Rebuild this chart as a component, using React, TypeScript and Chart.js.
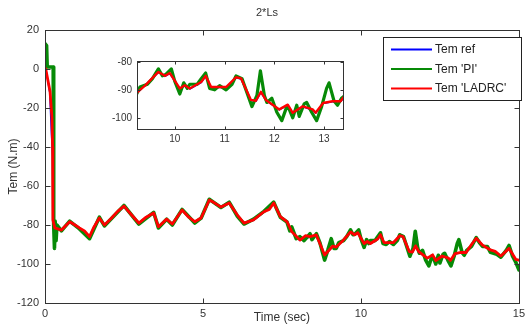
import React, { useEffect, useRef } from 'react';
import { Chart, registerables } from 'chart.js';
Chart.register(...registerables);

// Time (sec) / torque (N.m) samples
const refT = [0, 0.03, 0.15, 0.2, 0.24, 0.25, 0.31, 0.52, 0.78, 1.09, 1.41, 1.72, 1.88, 2.5, 2.97, 3.44, 3.59, 3.85, 4.03, 4.34, 4.74, 4.94, 5.2, 5.57, 5.83, 6.09, 6.3, 6.6, 6.93, 7.24, 7.45, 7.66, 7.81, 8.07, 8.39, 8.59, 8.85, 9.11, 9.22, 9.67, 9.8, 9.9, 10.1, 10.2, 10.3, 10.53, 10.62, 10.73, 11.03, 11.23, 11.33, 11.53, 11.63, 11.73, 11.83, 12.1, 12.27, 12.37, 12.57, 12.77, 12.83, 12.98, 13.17, 13.33, 13.65, 13.85, 14.1, 14.43, 14.69, 14.9, 15];
const refV = [0, -0.5, -12, -32, -45, -77.8, -81.8, -82.8, -78.6, -81.8, -86.2, -76.6, -80.2, -70.5, -79.2, -74, -81, -77.2, -79.7, -72.5, -78.5, -76.6, -67.4, -71, -68.9, -75.1, -79.2, -77.6, -73.4, -68.9, -75.9, -78.5, -83.6, -87.9, -86.2, -85.3, -95.6, -91, -91.5, -83.8, -85.2, -84.2, -89.7, -88.6, -89.7, -87.4, -85.2, -89.2, -89.2, -85.7, -86.1, -93.8, -94.1, -90.9, -93.8, -97.2, -95.5, -98.4, -96.1, -97.2, -98.4, -94.9, -94.3, -94.3, -87, -90.5, -93, -96.1, -92.2, -97.8, -98.2];

const piT = [0, 0.05, 0.07, 0.26, 0.27, 0.28, 0.3, 0.32, 0.35, 0.38, 0.52, 0.78, 1.09, 1.41, 1.72, 1.88, 2.5, 2.97, 3.44, 3.59, 3.85, 4.03, 4.34, 4.74, 4.94, 5.2, 5.57, 5.83, 6.09, 6.3, 6.6, 6.93, 7.24, 7.45, 7.66, 7.75, 7.81, 7.95, 8.07, 8.2, 8.39, 8.45, 8.59, 8.7, 8.85, 8.95, 9.06, 9.15, 9.22, 9.3, 9.45, 9.55, 9.67, 9.75, 9.82, 9.93, 10.0, 10.1, 10.18, 10.25, 10.3, 10.45, 10.53, 10.62, 10.7, 10.8, 10.9, 11.03, 11.15, 11.23, 11.35, 11.45, 11.55, 11.65, 11.72, 11.8, 11.85, 11.95, 12.05, 12.15, 12.25, 12.3, 12.37, 12.45, 12.5, 12.6, 12.65, 12.75, 12.85, 12.95, 13.05, 13.1, 13.2, 13.27, 13.35, 13.5, 13.65, 13.75, 13.85, 14.0, 14.1, 14.3, 14.43, 14.6, 14.69, 14.8, 14.9, 15];
const piV = [13, 12, 1, 1, -60, -80, -92, -78, -88, -80, -83, -78, -82, -87, -76, -80.5, -70, -79.5, -73.5, -81.5, -77, -80, -72, -79, -76.5, -66.8, -71, -68.3, -75.5, -79.5, -77, -73, -68.3, -76, -78.5, -83, -81, -87, -86, -88, -84.5, -87.5, -84.5, -89, -98, -93, -87, -92, -92, -89, -88, -86, -82.5, -85, -84.5, -82.5, -87, -91.5, -87.5, -89.5, -88, -88, -86, -84, -89.5, -90, -88.5, -90, -88, -85, -86, -91, -96, -92, -83.2, -92, -94.5, -93, -98, -101, -96, -97, -100, -95.5, -99.5, -95, -94.5, -98, -101, -96, -89.5, -87.5, -94, -95.5, -93, -91, -86.5, -89, -91, -91, -94, -95, -96.5, -93, -90.5, -96, -99, -103];

const ladrcT = [0, 0.03, 0.16, 0.22, 0.24, 0.25, 0.31, 0.52, 0.78, 0.95, 1.09, 1.25, 1.41, 1.55, 1.72, 1.88, 2.1, 2.3, 2.5, 2.75, 2.97, 3.2, 3.44, 3.59, 3.85, 4.03, 4.34, 4.55, 4.74, 4.94, 5.2, 5.35, 5.57, 5.83, 6.09, 6.3, 6.6, 6.93, 7.1, 7.24, 7.45, 7.66, 7.81, 8.07, 8.25, 8.39, 8.59, 8.85, 9.11, 9.22, 9.4, 9.67, 9.8, 9.9, 10.1, 10.2, 10.3, 10.53, 10.62, 10.73, 11.03, 11.23, 11.33, 11.53, 11.63, 11.73, 11.83, 12.1, 12.27, 12.37, 12.57, 12.77, 12.83, 12.98, 13.17, 13.33, 13.5, 13.65, 13.85, 14.1, 14.25, 14.43, 14.69, 14.9, 15];
const ladrcV = [0, -0.5, -11.6, -25, -40, -77.4, -81.5, -82.6, -78.3, -80, -81.5, -83, -86, -81, -76.4, -80, -76.5, -73, -70.3, -75, -79, -76, -73.8, -80.9, -77, -79.5, -72.3, -76, -78.3, -76.4, -67.2, -68.5, -70.8, -68.7, -74.9, -79, -77.4, -73.2, -72, -68.7, -75.7, -78.3, -83.4, -87.7, -85.5, -86, -85.1, -95.4, -90.8, -91.3, -88.5, -83.6, -85, -84, -89.5, -88.4, -89.5, -87.2, -85, -89, -89, -85.5, -85.9, -93.6, -93.9, -90.7, -93.6, -97, -95.3, -98.2, -95.9, -97, -98.2, -94.7, -94.1, -94.1, -90, -86.8, -90.3, -92.8, -93.5, -95.9, -92, -97.6, -98];

const mainXTicks = [0, 5, 10, 15];
const mainYTicks = [20, 0, -20, -40, -60, -80, -100, -120];
const insetXTicks = [10, 11, 12, 13];
const insetYTicks = [-80, -90, -100];
const legendLabels = ["Tem ref", "Tem 'PI'", "Tem 'LADRC'"];
const chartTitle = '2*Ls';
const xTitle = 'Time (sec)';
const yTitle = 'Tem (N.m)';

const BLUE = '#0000ff';
const GREEN = '#078a07';
const RED = '#ff0000';
const FONT = '"Liberation Sans", Arial, sans-serif';
const TXT = '#333333';

const pts = (t: number[], v: number[]) => t.map((x, i) => ({ x, y: v[i] }));

const makeDatasets = (lw: number, gw: number) => [
  { label: legendLabels[0], data: pts(refT, refV), borderColor: BLUE, borderWidth: 1.5, pointRadius: 0, order: 2, borderJoinStyle: 'round' },
  { label: legendLabels[1], data: pts(piT, piV), borderColor: GREEN, borderWidth: gw, pointRadius: 0, order: 1, borderJoinStyle: 'round', borderCapStyle: 'round' },
  { label: legendLabels[2], data: pts(ladrcT, ladrcV), borderColor: RED, borderWidth: lw, pointRadius: 0, order: 0, borderJoinStyle: 'round', borderCapStyle: 'round' },
];

const framePlugin = (len: number, xt: number[], yt: number[]) => ({
  id: 'frame',
  beforeDraw(chart: any) {
    const { ctx, width, height } = chart;
    ctx.save();
    ctx.fillStyle = '#ffffff';
    ctx.fillRect(0, 0, width, height);
    ctx.restore();
  },
  afterDraw(chart: any) {
    const { ctx, chartArea: a, scales } = chart;
    const x = scales.x, y = scales.y;
    ctx.save();
    ctx.strokeStyle = '#333333';
    ctx.lineWidth = 1;
    const L = Math.round(a.left) + 0.5, R = Math.round(a.right) + 0.5;
    const T = Math.round(a.top) + 0.5, B = Math.round(a.bottom) + 0.5;
    ctx.strokeRect(L, T, R - L, B - T);
    ctx.beginPath();
    xt.forEach((v) => {
      const px = Math.round(x.getPixelForValue(v)) + 0.5;
      ctx.moveTo(px, B); ctx.lineTo(px, B - len);
      ctx.moveTo(px, T); ctx.lineTo(px, T + len);
    });
    yt.forEach((v) => {
      const py = Math.round(y.getPixelForValue(v)) + 0.5;
      ctx.moveTo(L, py); ctx.lineTo(L + len, py);
      ctx.moveTo(R, py); ctx.lineTo(R - len, py);
    });
    ctx.stroke();
    ctx.restore();
  },
});

const decoPlugin = {
  id: 'deco',
  afterDraw(chart: any) {
    const { ctx, chartArea: a } = chart;
    ctx.save();
    ctx.fillStyle = TXT;
    ctx.font = `11px ${FONT}`;
    ctx.textAlign = 'center';
    ctx.textBaseline = 'middle';
    ctx.fillText(chartTitle, 267, 13);
    ctx.font = `12px ${FONT}`;
    ctx.fillText(xTitle, (a.left + a.right) / 2, 318);
    ctx.save();
    ctx.translate(14, (a.top + a.bottom) / 2);
    ctx.rotate(-Math.PI / 2);
    ctx.fillText(yTitle, 0, 0);
    ctx.restore();
    // legend box
    const bx = 383, by = 37, bw = 138, bh = 63;
    ctx.fillStyle = '#ffffff';
    ctx.fillRect(bx, by, bw, bh);
    ctx.strokeStyle = '#222222';
    ctx.lineWidth = 1;
    ctx.strokeRect(bx + 0.5, by + 0.5, bw, bh);
    const colors = [BLUE, GREEN, RED];
    const ys = [49.5, 69, 88.5];
    ctx.font = `12px ${FONT}`;
    ctx.textAlign = 'left';
    legendLabels.forEach((lab, i) => {
      ctx.strokeStyle = colors[i];
      ctx.lineWidth = 2;
      ctx.beginPath();
      ctx.moveTo(391, ys[i]);
      ctx.lineTo(432, ys[i]);
      ctx.stroke();
      ctx.fillStyle = '#222222';
      ctx.fillText(lab, 435, ys[i] + 0.5);
    });
    ctx.restore();
  },
};

export default function App() {
  const mainRef = useRef<HTMLCanvasElement>(null);
  const insetRef = useRef<HTMLCanvasElement>(null);

  useEffect(() => {
    const main = new Chart(mainRef.current as HTMLCanvasElement, {
      type: 'line',
      data: { datasets: makeDatasets(2.8, 3.6) as any },
      options: {
        animation: false,
        responsive: false,
        devicePixelRatio: 1,
        layout: { padding: { top: 30, right: 6, left: 0, bottom: 0 } },
        plugins: { legend: { display: false }, tooltip: { enabled: false }, title: { display: false } },
        scales: {
          x: {
            type: 'linear', min: 0, max: 15,
            grid: { display: false, drawTicks: false },
            border: { display: false },
            ticks: { stepSize: 5, padding: 4, color: TXT, font: { family: FONT, size: 11 }, maxRotation: 0 },
            afterFit: (s: any) => { s.height = 23; },
          },
          y: {
            type: 'linear', min: -120, max: 20,
            grid: { display: false, drawTicks: false },
            border: { display: false },
            ticks: { stepSize: 20, padding: 6, color: TXT, font: { family: FONT, size: 11 } },
            afterFit: (s: any) => { s.width = 45; },
          },
        },
      } as any,
      plugins: [framePlugin(5, mainXTicks, mainYTicks), decoPlugin],
    });

    const inset = new Chart(insetRef.current as HTMLCanvasElement, {
      type: 'line',
      data: { datasets: makeDatasets(2.4, 3.2) as any },
      options: {
        animation: false,
        responsive: false,
        devicePixelRatio: 1,
        layout: { padding: { top: 8, right: 7, left: 0, bottom: 0 } },
        plugins: { legend: { display: false }, tooltip: { enabled: false } },
        scales: {
          x: {
            type: 'linear', min: 9.24, max: 13.38,
            grid: { display: false, drawTicks: false },
            border: { display: false },
            ticks: { stepSize: 1, includeBounds: false, padding: 4, color: TXT, font: { family: FONT, size: 10 }, maxRotation: 0 },
            afterFit: (s: any) => { s.height = 16; },
          },
          y: {
            type: 'linear', min: -104, max: -79.7,
            grid: { display: false, drawTicks: false },
            border: { display: false },
            ticks: { stepSize: 10, includeBounds: false, padding: 5, color: TXT, font: { family: FONT, size: 10 } },
            afterFit: (s: any) => { s.width = 37; },
          },
        },
      } as any,
      plugins: [framePlugin(3, insetXTicks, insetYTicks)],
    });

    return () => { main.destroy(); inset.destroy(); };
  }, []);

  return (
    <div style={{ position: 'fixed', left: 0, top: 0, width: 529, height: 326, background: '#fff' }}>
      <canvas ref={mainRef} width={529} height={326} style={{ position: 'absolute', left: 0, top: 0, width: 529, height: 326 }} />
      <canvas ref={insetRef} width={250} height={95} style={{ position: 'absolute', left: 100, top: 50, width: 250, height: 95 }} />
    </div>
  );
}
